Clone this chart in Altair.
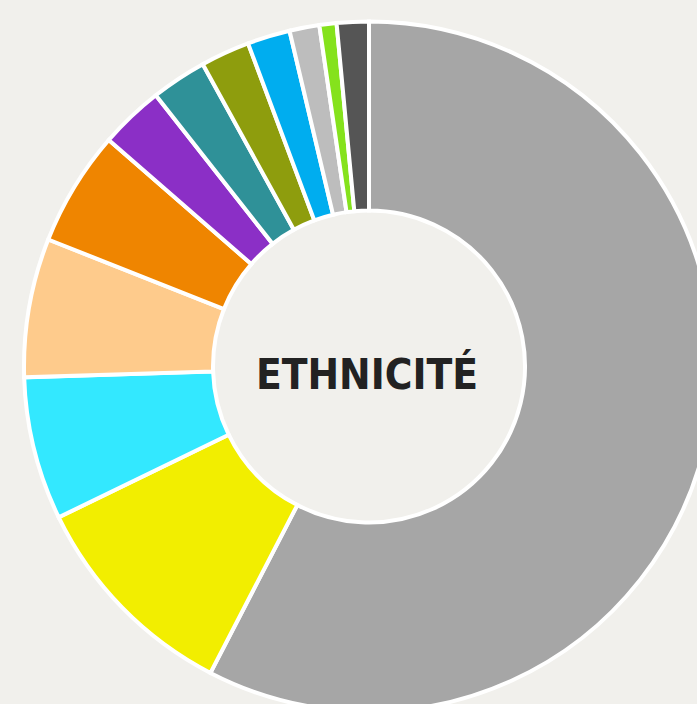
import altair as alt
import pandas as pd

categories = ["A", "B", "C", "D", "E", "F", "G", "H", "I", "J", "K", "L"]
values = [57.6, 10.2, 6.7, 6.5, 5.4, 3.0, 2.6, 2.3, 2.0, 1.4, 0.8, 1.5]
colors = ["#a6a6a6", "#f2ee00", "#33e8ff", "#fecb8c", "#ef8500", "#8b2fc6",
          "#2f9198", "#8e9d0d", "#00adef", "#bdbdbd", "#85e21c", "#555555"]
title_text = "ETHNICITÉ"

df = pd.DataFrame({"cat": categories, "val": values, "order": list(range(len(values)))})

arcs = alt.Chart(df).mark_arc(
    radius=345, radius2=156, stroke="white", strokeWidth=4
).encode(
    theta=alt.Theta("val:Q", stack=True),
    order=alt.Order("order:Q"),
    color=alt.Color("cat:N", scale=alt.Scale(domain=categories, range=colors), legend=None),
    x=alt.value(369),
    y=alt.value(366.5),
)

label = alt.Chart(pd.DataFrame({"t": [title_text]})).mark_text(
    font="DejaVu Sans Condensed",
    fontWeight="bold",
    fontSize=42,
    color="#222222",
    align="center",
    baseline="alphabetic",
).encode(
    text="t:N",
    x=alt.value(367),
    y=alt.value(389),
)

chart = alt.layer(arcs, label).properties(
    width=697, height=704,
    background="#f1f0ec",
    padding=0,
    autosize=alt.AutoSizeParams(type="none"),
).configure_view(stroke=None)

chart.save("out.html", embed_options={"renderer": "svg", "actions": False})
